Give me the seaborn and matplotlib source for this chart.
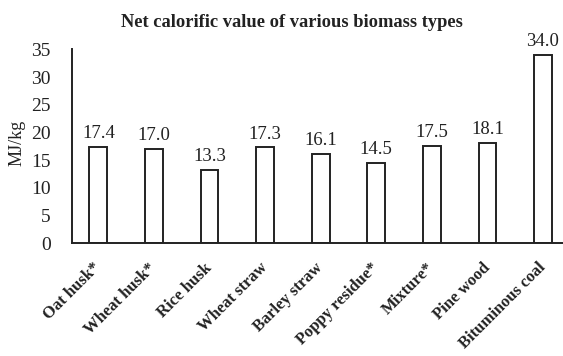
import matplotlib
matplotlib.use("Agg")
import matplotlib.pyplot as plt
import seaborn as sns
import pandas as pd

categories = ["Oat husk*", "Wheat husk*", "Rice husk", "Wheat straw", "Barley straw",
              "Poppy residue*", "Mixture*", "Pine wood", "Bituminous coal"]
values = [17.4, 17.0, 13.3, 17.3, 16.1, 14.5, 17.5, 18.1, 34.0]
y_ticks = [0, 5, 10, 15, 20, 25, 30, 35]

sns.set_style("white")
plt.rcParams["font.family"] = ["Liberation Serif", "DejaVu Serif"]

df = pd.DataFrame({"type": categories, "ncv": values})
ink = "#222222"

fig = plt.figure(figsize=(5.63, 3.56), dpi=100)
left_px, bottom_px, top_px = 71.7, 243.3, 49.4
ax_w = (563 - left_px) / 563
ax = fig.add_axes([left_px / 563, 1 - bottom_px / 356, ax_w, (bottom_px - top_px) / 356])

sns.barplot(data=df, x="type", y="ncv", ax=ax, width=0.32,
            color="white", edgecolor=ink, linewidth=1.4)

for i, v in enumerate(values):
    ax.annotate(f"{v:.1f}", (i, v), xytext=(0, 3.5), textcoords="offset points",
                ha="center", va="bottom", fontsize=13.5, color=ink)

ax.set_ylim(0, 35)
ax.set_xlim(-0.48, 8.36)
ax.set_yticks(y_ticks)
ax.set_yticklabels([str(t) for t in y_ticks], fontsize=14)
ax.set_xticks(range(len(categories)))
ax.set_xticklabels(categories, rotation=45, ha="right", va="center",
                   rotation_mode="anchor", fontsize=12, fontweight="bold")
ax.tick_params(axis="both", direction="in", length=3, width=1.2, colors=ink,
               labelcolor=ink)
ax.tick_params(axis="y", pad=15)
ax.tick_params(axis="x", pad=16)

for s in ["top", "right"]:
    ax.spines[s].set_visible(False)
for s in ["left", "bottom"]:
    ax.spines[s].set_linewidth(1.4)
    ax.spines[s].set_color(ink)

ax.set_xlabel("")
ax.set_ylabel("MJ/kg", fontsize=13, color=ink)
ax.yaxis.set_label_coords(-(left_px - 26) / (563 - left_px), 0.52)
fig.text(0.518, 0.938, "Net calorific value of various biomass types",
         ha="center", va="center", fontsize=13.3, fontweight="bold", color=ink)

fig.savefig("out.png", dpi=100)
